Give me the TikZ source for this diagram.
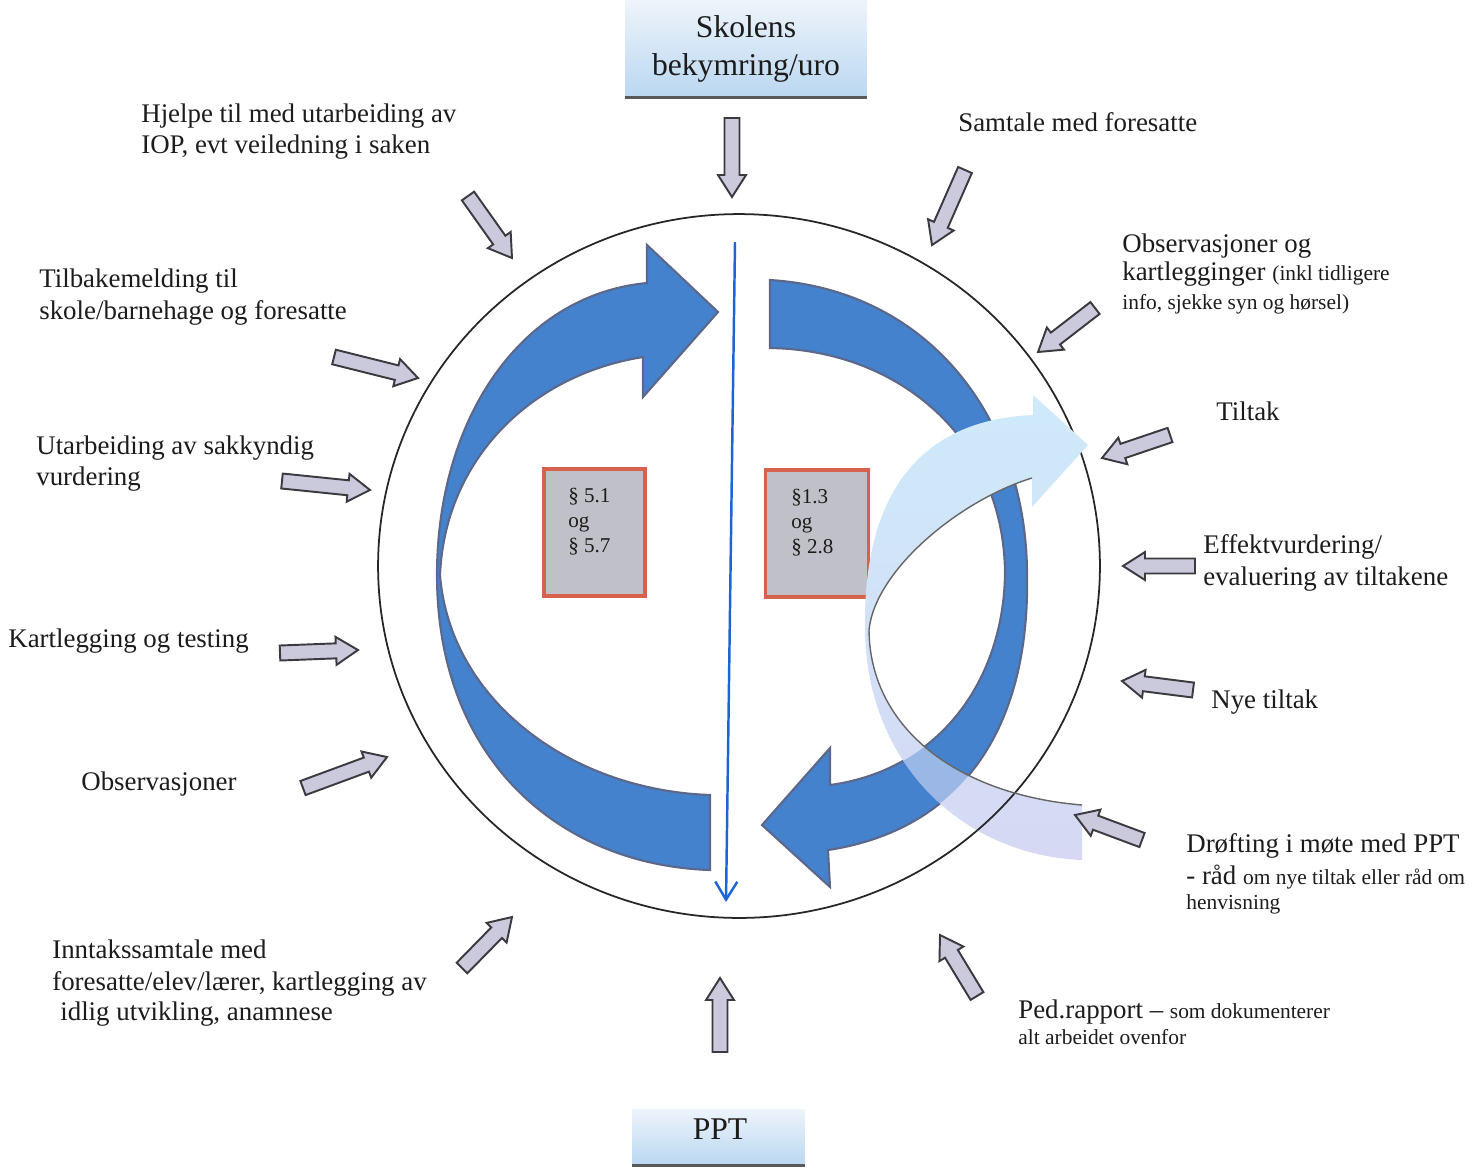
\documentclass[tikz,border=0pt]{standalone}
\usepackage{fontspec}
\setmainfont{Liberation Serif}
\usetikzlibrary{calc,arrows.meta}
\definecolor{dblue}{RGB}{68,130,206}
\definecolor{dblueedge}{RGB}{92,104,138}
\definecolor{gfill}{RGB}{202,202,220}
\definecolor{gedge}{RGB}{58,58,64}
\definecolor{txt}{RGB}{28,28,28}
\definecolor{boxred}{RGB}{214,98,78}
\definecolor{boxgray}{RGB}{192,192,200}
\definecolor{lineblue}{RGB}{30,100,212}
\definecolor{lcyan}{RGB}{206,234,250}
\definecolor{llav}{RGB}{214,216,244}
\definecolor{hdtop}{RGB}{238,244,251}
\definecolor{hdbot}{RGB}{186,215,241}
\newcommand{\sm}{\fontsize{12.2}{14}\selectfont}
\newcommand{\lpath}{(1033,415) .. controls (915,420) and (864,500) .. (865,625)
  .. controls (864,760) and (960,855) .. (1082,860) -- (1082,805)
  .. controls (960,795) and (870,730) .. (869,630) .. controls (875,570) and (960,500) .. (1032,478)
  -- (1032,507) -- (1088,445) -- (1033,395) -- cycle}
\newcommand{\rpath}{(770,280) .. controls (930,290) and (1027,420) .. (1027,575)
  .. controls (1030,730) and (960,830) .. (828,850) -- (830,887) -- (762,825) -- (830,748) -- (830,785)
  .. controls (940,770) and (1003,680) .. (1005,575) .. controls (1005,440) and (900,350) .. (770,348) -- cycle}
\newcommand{\gblock}[2]{%
  \path ($(#2)!0.44cm!(#1)$) coordinate (gb);
  \draw[gstyle] ($(#1)!0.15cm!90:(#2)$) -- ($(gb)!0.15cm!90:(#2)$) -- ($(gb)!0.28cm!90:(#2)$) -- (#2) -- ($(gb)!0.28cm!-90:(#2)$) -- ($(gb)!0.15cm!-90:(#2)$) -- ($(#1)!0.15cm!-90:(#2)$) -- cycle;}
\begin{document}
\begin{tikzpicture}[x=0.02cm,y=-0.02cm,
  gstyle/.style={draw=gedge, fill=gfill, line width=1.1pt, line join=miter},
  darr/.style={draw=dblueedge, fill=dblue, line width=1.2pt, line join=miter},
  larr/.style={top color=lcyan, bottom color=llav},
  ring/.style={line width=1pt, draw=black!85},
  lbl/.style={anchor=base west, inner sep=0pt, text=txt, font=\fontsize{15.3}{17.6}\selectfont},
  ptxt/.style={anchor=base west, inner sep=0pt, text=txt, font=\fontsize{12}{14}\selectfont},
  hbox/.style={top color=hdtop, bottom color=hdbot, inner sep=0pt, align=center, text=txt, font=\fontsize{18}{21.6}\selectfont},
  htxt/.style={inner sep=0pt, text=txt, font=\fontsize{18}{21.6}\selectfont},
  hline/.style={draw=black!65, line width=1.6pt},
  pbox/.style={draw=boxred, fill=boxgray, line width=1.8pt, inner sep=0pt}]
\useasboundingbox (0,0) rectangle (1480,1171);
\fill[white] (0,0) rectangle (1480,1171);

% header boxes
\node[hbox, minimum width=4.84cm, minimum height=1.94cm] (skole) at (746,48.5) {Skolens\\bekymring/uro};
\draw[hline] (skole.south west) -- (skole.south east);
\node[hbox, minimum width=3.46cm, minimum height=1.12cm] (ppt) at (718.5,1137) {};
\node[htxt] (ppttxt) at (720,1129) {PPT};
\draw[hline] (ppt.south west) -- (ppt.south east);

% circle
\coordinate (cc) at (739,566);
\draw[ring] (cc) ellipse [x radius=7.22cm, y radius=7.04cm];

% vertical blue line
\coordinate (bl1) at (735,242);
\coordinate (bl2) at (726,902);
\draw[lineblue, line width=1.4pt, -{Straight Barb[length=0.36cm,width=0.44cm]}] (bl1) -- (bl2);

% left dark arrow
\draw[darr] (710,870) -- (710,795) .. controls (570,790) and (450,700) .. (440,575)
  .. controls (445,460) and (530,375) .. (643,357) -- (643,397) -- (718,312) -- (647,245) -- (647,283)
  .. controls (520,295) and (437,420) .. (437,575) .. controls (437,760) and (560,865) .. (710,870) -- cycle;

% right dark arrow
\draw[darr] \rpath;

% paragraph boxes
\node[pbox, minimum width=2.02cm, minimum height=2.54cm] (p1) at (594.5,532.5) {};
\node[pbox, minimum width=2.06cm, minimum height=2.54cm] (p2) at (817,533.5) {};
\node[ptxt] (p1a) at (568,502) {§ 5.1};
\node[ptxt] (p1b) at (568,527) {og};
\node[ptxt] (p1c) at (568,552) {§ 5.7};
\node[ptxt] (p2a) at (791,503) {§1.3};
\node[ptxt] (p2b) at (791,528) {og};
\node[ptxt] (p2c) at (791,553) {§ 2.8};

% light arrow (opaque), with the dark band and ring faintly showing through its lower part
\shade[larr] \lpath;
\begin{scope}
  \clip \lpath;
  \clip (800,620) rectangle (1100,900);
  \fill[dblue, opacity=0.4] \rpath;
  \draw[ring] (cc) ellipse [x radius=7.22cm, y radius=7.04cm];
\end{scope}
\draw[black!60, line width=0.8pt] (1082,805) .. controls (960,795) and (870,730) .. (869,630) .. controls (875,570) and (960,500) .. (1032,478);

% grey block arrows
\coordinate (t1) at (732,118);  \coordinate (h1) at (732,197);
\coordinate (t2) at (468,196);  \coordinate (h2) at (512,258);
\coordinate (t3) at (965,170);  \coordinate (h3) at (932,245);
\coordinate (t4) at (1095,308); \coordinate (h4) at (1038,352);
\coordinate (t5) at (1170,435); \coordinate (h5) at (1102,458);
\coordinate (t6) at (1195,566); \coordinate (h6) at (1123,566);
\coordinate (t7) at (1193,690); \coordinate (h7) at (1122,681);
\coordinate (t8) at (1142,840); \coordinate (h8) at (1075,815);
\coordinate (t9) at (977,996);  \coordinate (h9) at (940,935);
\coordinate (t10) at (720,1052); \coordinate (h10) at (720,978);
\coordinate (t11) at (462,968); \coordinate (h11) at (512,917);
\coordinate (t12) at (303,788); \coordinate (h12) at (387,757);
\coordinate (t13) at (280,653); \coordinate (h13) at (358,650);
\coordinate (t14) at (282,481); \coordinate (h14) at (370,490);
\coordinate (t15) at (334,357); \coordinate (h15) at (418,378);
\gblock{t1}{h1}
\gblock{t2}{h2}
\gblock{t3}{h3}
\gblock{t4}{h4}
\gblock{t5}{h5}
\gblock{t6}{h6}
\gblock{t7}{h7}
\gblock{t8}{h8}
\gblock{t9}{h9}
\gblock{t10}{h10}
\gblock{t11}{h11}
\gblock{t12}{h12}
\gblock{t13}{h13}
\gblock{t14}{h14}
\gblock{t15}{h15}

% labels
\node[lbl] (l2a) at (141,122) {Hjelpe til med utarbeiding av};
\node[lbl] (l2b) at (141,153) {IOP, evt veiledning i saken};
\node[lbl] (l3) at (958,131) {Samtale med foresatte};
\node[lbl] (l4a) at (1122,252) {Observasjoner og};
\node[lbl] (l4b) at (1122,280) {kartlegginger {\sm(inkl tidligere}};
\node[lbl] (l4c) at (1122,309) {\sm info, sjekke syn og hørsel)};
\node[lbl] (l5) at (1216,420) {Tiltak};
\node[lbl] (l6a) at (1203,553) {Effektvurdering/};
\node[lbl] (l6b) at (1203,585) {evaluering av tiltakene};
\node[lbl] (l7) at (1211,708) {Nye tiltak};
\node[lbl] (l8a) at (1186,852) {Drøfting i møte med PPT};
\node[lbl] (l8b) at (1186,884) {- råd {\sm om nye tiltak eller råd om}};
\node[lbl] (l8c) at (1186,909) {\sm henvisning};
\node[lbl] (l9a) at (1018,1018) {Ped.rapport – {\sm som dokumenterer}};
\node[lbl] (l9b) at (1018,1044) {\sm alt arbeidet ovenfor};
\node[lbl] (l11a) at (52,958) {Inntakssamtale med};
\node[lbl] (l11b) at (52,990) {foresatte/elev/lærer, kartlegging av};
\node[lbl] (l11c) at (60,1020) {idlig utvikling, anamnese};
\node[lbl] (l12) at (81,790) {Observasjoner};
\node[lbl] (l13) at (8,647) {Kartlegging og testing};
\node[lbl] (l14a) at (36,454) {Utarbeiding av sakkyndig};
\node[lbl] (l14b) at (36,485) {vurdering};
\node[lbl] (l15a) at (39,287) {Tilbakemelding til};
\node[lbl] (l15b) at (39,319) {skole/barnehage og foresatte};
\end{tikzpicture}
\end{document}
